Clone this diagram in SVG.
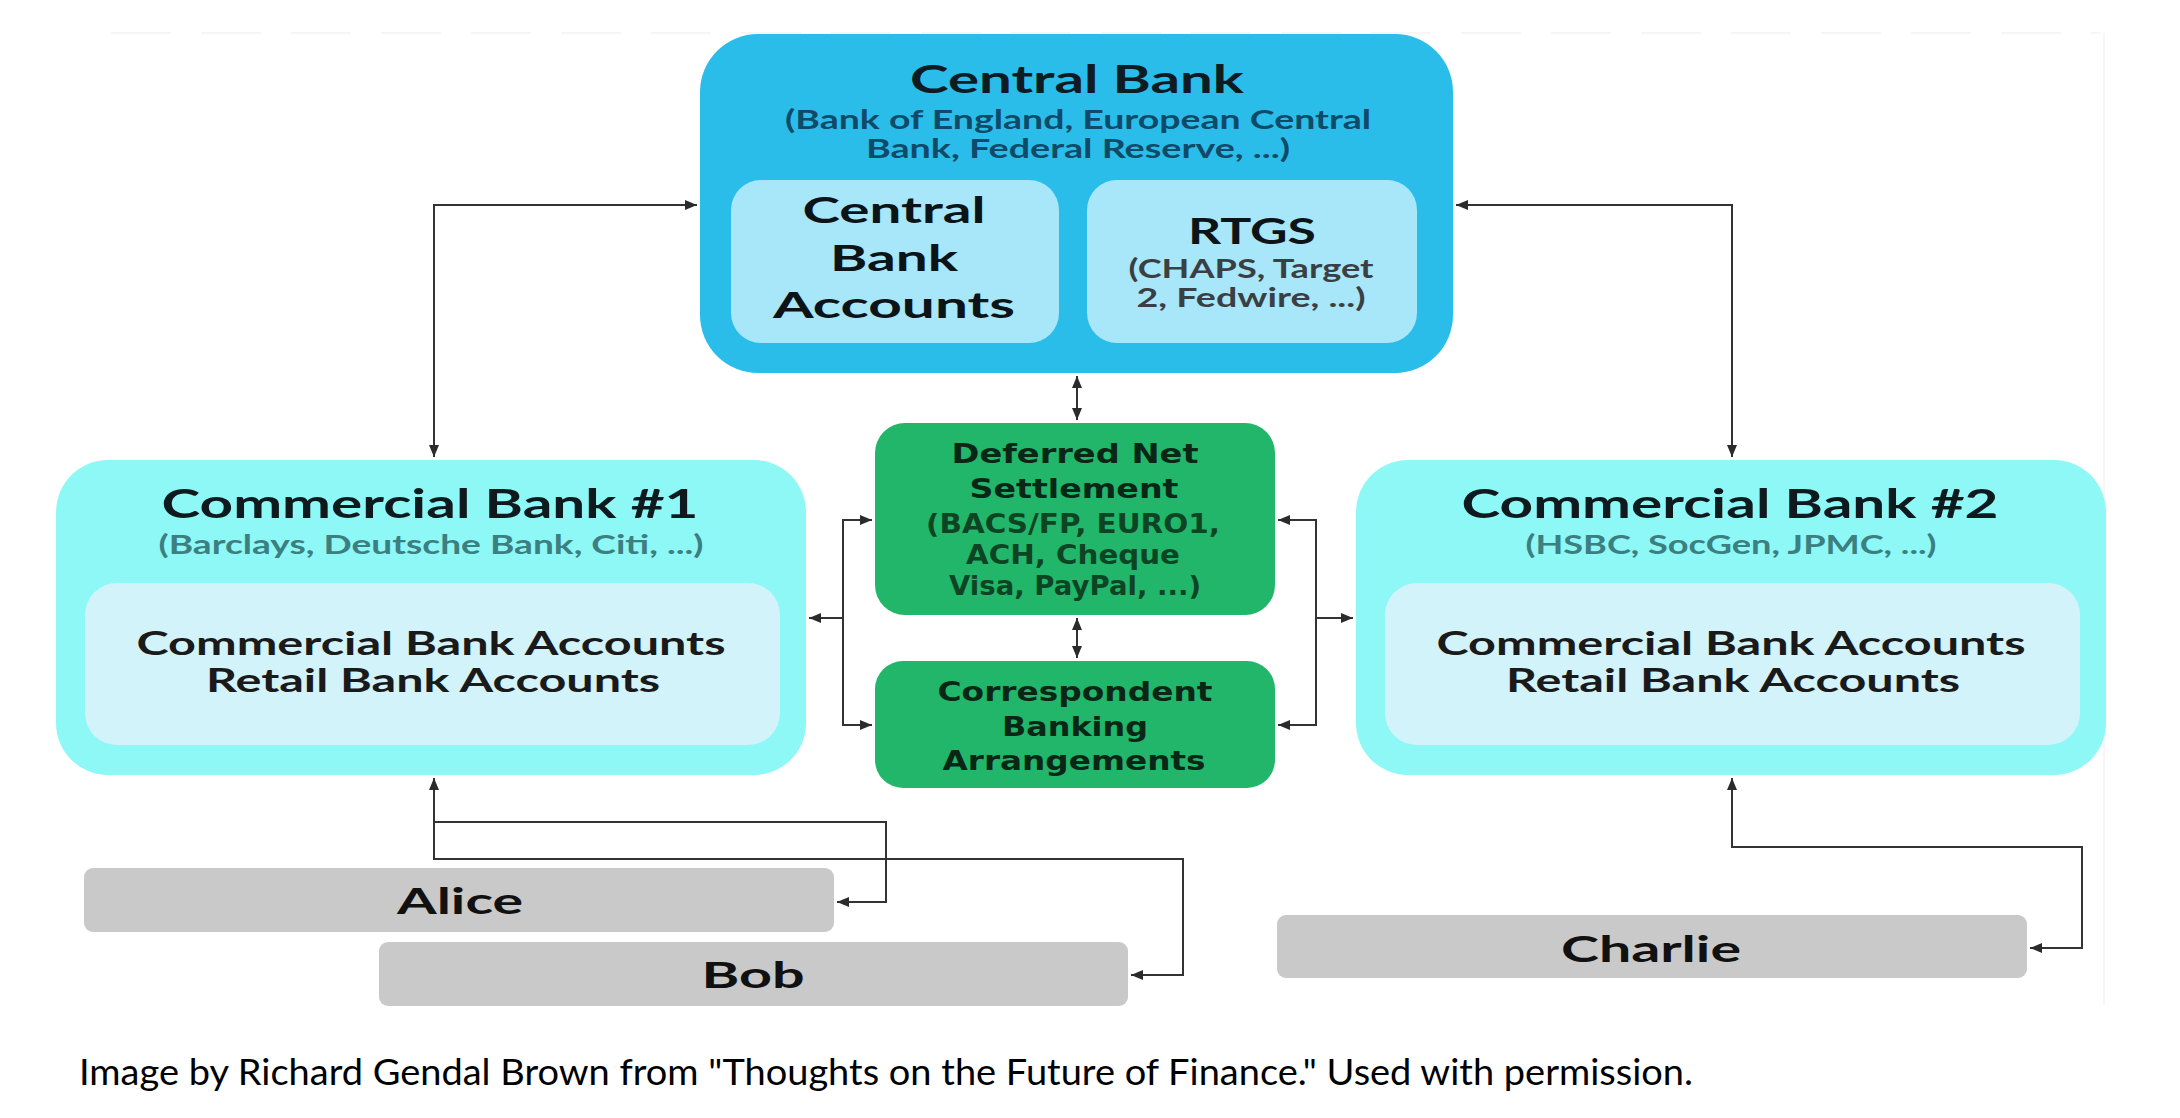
<svg xmlns="http://www.w3.org/2000/svg" width="2180" height="1118" viewBox="0 0 2180 1118">
<defs>
<marker id="ah" viewBox="0 0 12 10" refX="12" refY="5" markerWidth="12" markerHeight="10" markerUnits="userSpaceOnUse" orient="auto-start-reverse">
<path d="M0,0 L12,5 L0,10 z" fill="#2b2b2b"/>
</marker>
<style>
.sub{font-family:Lato,"Liberation Sans",sans-serif;font-weight:700;text-anchor:middle}
.gr{font-family:"DejaVu Sans","Liberation Sans",sans-serif;font-weight:700;text-anchor:middle}
.cb-outer{fill:#2BBDEA}
.cb-inner{fill:#A8E6F9}
.com-outer{fill:#8EF8F6}
.com-inner{fill:#D3F3FA}
.green{fill:#22B66A}
.person{fill:#C9C9C9}
.conn{fill:none;stroke:#333;stroke-width:2;marker-end:url(#ah)}
.both{marker-start:url(#ah)}
.frame{fill:none;stroke:#f6f6f6;stroke-width:2}
</style>
</defs>
<rect width="2180" height="1118" fill="#fff"/>

<g id="frame">
<line class="frame" x1="111" y1="33" x2="2100" y2="33" stroke-dasharray="60 30"/>
<line class="frame" x1="2104" y1="33" x2="2104" y2="1005"/>
</g>

<g id="central-bank">
<rect class="cb-outer" x="700" y="34" width="753" height="339" rx="58"/>
<text class="sub" x="1077" y="93" font-size="39" fill="#0d1b22" textLength="334" lengthAdjust="spacingAndGlyphs">Central Bank</text>
<text class="sub" x="1078" y="129" font-size="26" fill="#0f4a68" font-weight="400" textLength="586" lengthAdjust="spacingAndGlyphs">(Bank of England, European Central</text>
<text class="sub" x="1078" y="158" font-size="26" fill="#0f4a68" font-weight="400" textLength="424" lengthAdjust="spacingAndGlyphs">Bank, Federal Reserve, ...)</text>
<g id="central-bank-accounts">
<rect class="cb-inner" x="731" y="180" width="328" height="163" rx="30"/>
<text class="sub" x="894" y="223" font-size="37" fill="#0d1418" textLength="183" lengthAdjust="spacingAndGlyphs">Central</text>
<text class="sub" x="894" y="271" font-size="37" fill="#0d1418" textLength="128" lengthAdjust="spacingAndGlyphs">Bank</text>
<text class="sub" x="894" y="318" font-size="37" fill="#0d1418" textLength="242" lengthAdjust="spacingAndGlyphs">Accounts</text>
</g>
<g id="rtgs">
<rect class="cb-inner" x="1087" y="180" width="330" height="163" rx="30"/>
<text class="sub" x="1252" y="244" font-size="37" fill="#0d1418" textLength="128" lengthAdjust="spacingAndGlyphs">RTGS</text>
<text class="sub" x="1251" y="278" font-size="26" fill="#3a3f44" font-weight="400" textLength="245" lengthAdjust="spacingAndGlyphs">(CHAPS, Target</text>
<text class="sub" x="1251" y="307" font-size="26" fill="#3a3f44" font-weight="400" textLength="229" lengthAdjust="spacingAndGlyphs">2, Fedwire, ...)</text>
</g>
</g>

<g id="commercial-bank-1">
<rect class="com-outer" x="56" y="460" width="750" height="315" rx="52"/>
<text class="sub" x="430" y="518" font-size="40" fill="#0f1a1e" textLength="537" lengthAdjust="spacingAndGlyphs">Commercial Bank #1</text>
<text class="sub" x="431" y="554" font-size="26" fill="#3b7f80" font-weight="400" textLength="545" lengthAdjust="spacingAndGlyphs">(Barclays, Deutsche Bank, Citi, ...)</text>
<rect class="com-inner" x="85" y="583" width="695" height="162" rx="32"/>
<text class="sub" x="431" y="655" font-size="33" fill="#1a1a1a" textLength="589" lengthAdjust="spacingAndGlyphs">Commercial Bank Accounts</text>
<text class="sub" x="433" y="692" font-size="33" fill="#1a1a1a" textLength="454" lengthAdjust="spacingAndGlyphs">Retail Bank Accounts</text>
</g>

<g id="commercial-bank-2">
<rect class="com-outer" x="1356" y="460" width="750" height="315" rx="52"/>
<text class="sub" x="1730" y="518" font-size="40" fill="#0f1a1e" textLength="537" lengthAdjust="spacingAndGlyphs">Commercial Bank #2</text>
<text class="sub" x="1731" y="554" font-size="26" fill="#3b7f80" font-weight="400" textLength="411" lengthAdjust="spacingAndGlyphs">(HSBC, SocGen, JPMC, ...)</text>
<rect class="com-inner" x="1385" y="583" width="695" height="162" rx="32"/>
<text class="sub" x="1731" y="655" font-size="33" fill="#1a1a1a" textLength="589" lengthAdjust="spacingAndGlyphs">Commercial Bank Accounts</text>
<text class="sub" x="1733" y="692" font-size="33" fill="#1a1a1a" textLength="454" lengthAdjust="spacingAndGlyphs">Retail Bank Accounts</text>
</g>

<g id="deferred-net-settlement">
<rect class="green" x="875" y="423" width="400" height="192" rx="30"/>
<text class="gr" x="1075" y="463" font-size="26" fill="#0a2616" textLength="247" lengthAdjust="spacingAndGlyphs">Deferred Net</text>
<text class="gr" x="1074" y="498" font-size="26" fill="#0a2616" textLength="209" lengthAdjust="spacingAndGlyphs">Settlement</text>
<text class="gr" x="1073" y="533" font-size="26" fill="#0d4424" textLength="294" lengthAdjust="spacingAndGlyphs">(BACS/FP, EURO1,</text>
<text class="gr" x="1073" y="564" font-size="26" fill="#0d4424" textLength="214" lengthAdjust="spacingAndGlyphs">ACH, Cheque</text>
<text class="gr" x="1075" y="595" font-size="26" fill="#0d4424" textLength="252" lengthAdjust="spacingAndGlyphs">Visa, PayPal, ...)</text>
</g>

<g id="correspondent-banking">
<rect class="green" x="875" y="661" width="400" height="127" rx="28"/>
<text class="gr" x="1075" y="701" font-size="26" fill="#0a2616" textLength="275" lengthAdjust="spacingAndGlyphs">Correspondent</text>
<text class="gr" x="1075" y="736" font-size="26" fill="#0a2616" textLength="146" lengthAdjust="spacingAndGlyphs">Banking</text>
<text class="gr" x="1074" y="770" font-size="26" fill="#0a2616" textLength="263" lengthAdjust="spacingAndGlyphs">Arrangements</text>
</g>

<g id="alice">
<rect class="person" x="84" y="868" width="750" height="64" rx="9"/>
<text class="sub" x="460" y="914" font-size="36" fill="#111" textLength="126" lengthAdjust="spacingAndGlyphs">Alice</text>
</g>
<g id="bob">
<rect class="person" x="379" y="942" width="749" height="64" rx="9"/>
<text class="sub" x="753" y="988" font-size="36" fill="#111" textLength="103" lengthAdjust="spacingAndGlyphs">Bob</text>
</g>
<g id="charlie">
<rect class="person" x="1277" y="915" width="750" height="63" rx="9"/>
<text class="sub" x="1651" y="962" font-size="36" fill="#111" textLength="180" lengthAdjust="spacingAndGlyphs">Charlie</text>
</g>

<g id="connectors">
<path class="conn both" d="M697 205 H434 V457"/>
<path class="conn both" d="M1456 205 H1732 V457"/>
<path class="conn both" d="M1077 376 V420"/>
<path class="conn both" d="M1077 618 V658"/>
<path class="conn both" d="M809 618 H843 V520 H872"/>
<path class="conn" d="M843 618 V725 H872"/>
<path class="conn both" d="M1353 618 H1316 V520 H1278"/>
<path class="conn" d="M1316 618 V725 H1278"/>
<path class="conn both" d="M434 778 V822 H886 V902 H837"/>
<path class="conn" d="M434 822 V859 H1183 V975 H1131"/>
<path class="conn both" d="M1732 778 V847 H2082 V948 H2030"/>
</g>

<text id="caption" x="79" y="1085" font-family="Lato,'Liberation Sans',sans-serif" font-size="36" fill="#000" textLength="1614" lengthAdjust="spacingAndGlyphs">Image by Richard Gendal Brown from "Thoughts on the Future of Finance." Used with permission.</text>
</svg>
